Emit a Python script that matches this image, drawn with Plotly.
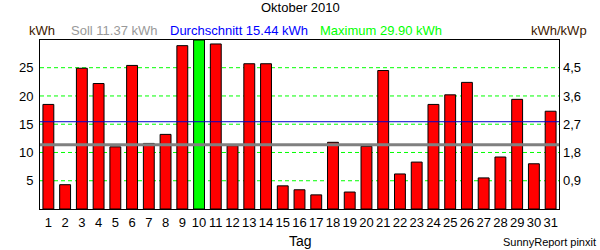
import plotly.graph_objects as go

days = list(range(1, 32))
energy = [18.5, 4.3, 24.9, 22.2, 11.0, 25.4, 11.6, 13.2, 28.9, 29.9,
          29.2, 11.2, 25.7, 25.7, 4.1, 3.4, 2.5, 11.8, 3.0, 11.1,
          24.5, 6.2, 8.3, 18.5, 20.2, 22.4, 5.5, 9.2, 19.4, 8.0, 17.3]
soll = 11.37
average = 15.44
maximum = 29.90
left_ticks = [5, 10, 15, 20, 25]
right_ticks = [0.9, 1.8, 2.7, 3.6, 4.5]
right_labels = ["0,9", "1,8", "2,7", "3,6", "4,5"]
kwh_per_kwp = 0.18

FONT = "Liberation Sans, Arial, sans-serif"

max_idx = energy.index(max(energy))
colors = ["#00FF00" if i == max_idx else "#FF0000" for i in range(len(energy))]

fig = go.Figure()
fig.add_trace(go.Bar(x=days, y=energy, width=0.65,
                     marker=dict(color=colors, line=dict(color="black", width=1)),
                     showlegend=False, hoverinfo="skip"))
fig.add_trace(go.Scatter(x=[1], y=[0], yaxis="y2", mode="markers",
                         marker=dict(opacity=0), showlegend=False, hoverinfo="skip"))

for t in left_ticks:
    fig.add_shape(type="line", xref="paper", x0=0, x1=1, yref="y", y0=t, y1=t,
                  line=dict(color="#00FF00", width=1, dash="4px,3px"), layer="below")

fig.add_shape(type="line", xref="paper", x0=0, x1=1, yref="y", y0=average, y1=average,
              line=dict(color="#0000CC", width=1), layer="above")
fig.add_shape(type="line", xref="paper", x0=0, x1=1, yref="y", y0=soll, y1=soll,
              line=dict(color="#808080", width=3), layer="above")

L, R, T, B = 40, 41, 40, 41
W, H = 600, 250
pw, ph = W - L - R, H - T - B

def px(x):
    return (x - L) / pw

def py(y):
    return (H - B - y) / ph

ann = [
    dict(text="Oktober 2010", x=px(300), y=py(8), xanchor="center", color="black", size=13),
    dict(text="kWh", x=px(27), y=py(31), xanchor="left", color="#402000", size=13),
    dict(text=f"Soll {soll:.2f} kWh", x=px(69), y=py(31), xanchor="left", color="#999999", size=13),
    dict(text=f"Durchschnitt {average:.2f} kWh", x=px(168), y=py(31), xanchor="left", color="#0000FF", size=13),
    dict(text=f"Maximum {maximum:.2f} kWh", x=px(318), y=py(31), xanchor="left", color="#00FF00", size=13),
    dict(text="kWh/kWp", x=px(589), y=py(31), xanchor="right", color="#402000", size=13),
    dict(text="Tag", x=px(300), y=py(241), xanchor="center", color="black", size=14),
    dict(text="SunnyReport pinxit", x=px(598), y=py(242), xanchor="right", color="black", size=11),
]
for a in ann:
    fig.add_annotation(text=a["text"], x=a["x"], y=a["y"], xref="paper", yref="paper",
                       xanchor=a["xanchor"], yanchor="middle", showarrow=False,
                       font=dict(family=FONT, size=a["size"], color=a["color"]))

fig.update_layout(
    width=W, height=H,
    margin=dict(l=L, r=R, t=T, b=B, pad=0),
    paper_bgcolor="white", plot_bgcolor="white",
    font=dict(family=FONT, size=13, color="black"),
    xaxis=dict(range=[0.5, 31.5], tickmode="array", tickvals=days,
               ticktext=[str(d) for d in days], showgrid=False, zeroline=False,
               showline=True, mirror=True, linecolor="black", linewidth=1,
               ticks="", tickfont=dict(size=13, color="black"), ticklabelstandoff=1),
    yaxis=dict(range=[0, maximum], tickmode="array", tickvals=left_ticks,
               showgrid=False, zeroline=False, showline=True, mirror=True,
               linecolor="black", linewidth=1,
               ticks="", tickfont=dict(size=13, color="black"), ticklabelstandoff=3),
    yaxis2=dict(range=[0, maximum * kwh_per_kwp], overlaying="y", side="right",
                tickmode="array", tickvals=right_ticks, ticktext=right_labels,
                showgrid=False, zeroline=False, showline=False, ticks="",
                tickfont=dict(size=13, color="black"), ticklabelstandoff=3),
)

fig.write_html("out.html")
